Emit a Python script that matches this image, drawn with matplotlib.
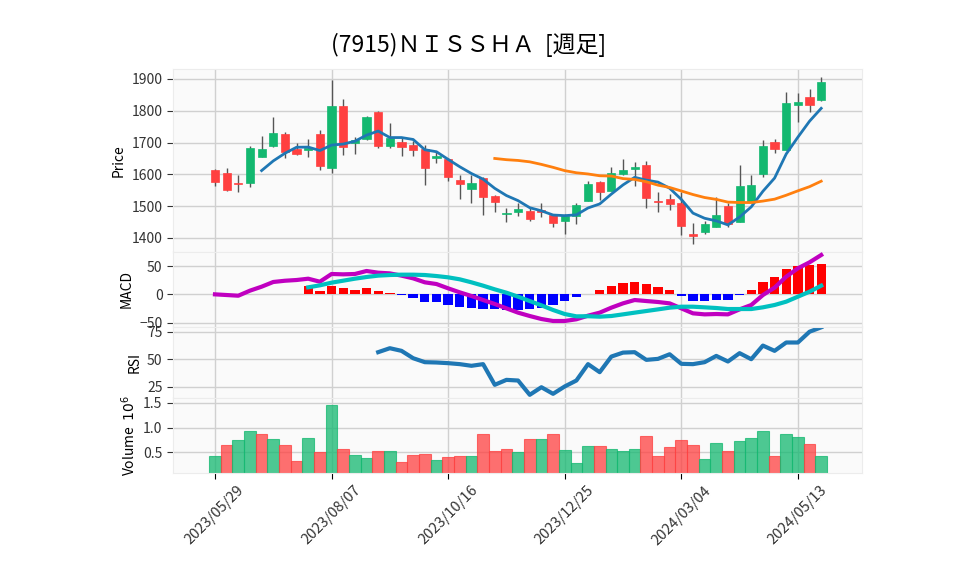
import numpy as np
import pandas as pd
import matplotlib
matplotlib.use("Agg")
import matplotlib.pyplot as plt

plt.rcParams['font.family'] = ['Noto Sans CJK JP', 'DejaVu Sans']

title = "(7915)ＮＩＳＳＨＡ  [週足]"
dates = pd.date_range("2023-05-29", periods=53, freq="W-MON")
tick_idx = [0, 10, 20, 30, 40, 50]
tick_labels = ["2023/05/29", "2023/08/07", "2023/10/16", "2023/12/25", "2024/03/04", "2024/05/13"]

opens = [1614, 1604, 1574, 1572, 1656, 1688, 1726, 1679, 1675, 1726, 1619, 1815, 1700, 1710, 1796, 1690,
         1701, 1692, 1680, 1651, 1647, 1582, 1553, 1590, 1532, 1475, 1483, 1485, 1488, 1471, 1454, 1470,
         1517, 1576, 1549, 1601, 1617, 1630, 1516, 1522, 1509, 1413, 1420, 1436, 1502, 1451, 1514, 1601,
         1703, 1677, 1819, 1842, 1834]
highs = [1616, 1619, 1598, 1690, 1719, 1781, 1734, 1698, 1710, 1740, 1895, 1837, 1718, 1782, 1798, 1761,
         1713, 1704, 1692, 1674, 1652, 1598, 1598, 1592, 1534, 1493, 1509, 1493, 1509, 1475, 1475, 1509,
         1580, 1578, 1622, 1647, 1640, 1643, 1546, 1538, 1543, 1448, 1453, 1528, 1511, 1630, 1598, 1708,
         1711, 1858, 1855, 1868, 1905]
lows = [1564, 1547, 1544, 1560, 1653, 1686, 1651, 1660, 1654, 1614, 1603, 1661, 1664, 1708, 1684, 1682,
        1658, 1658, 1567, 1635, 1579, 1522, 1511, 1472, 1481, 1449, 1469, 1453, 1467, 1434, 1413, 1444,
        1515, 1519, 1547, 1599, 1564, 1493, 1483, 1488, 1409, 1380, 1413, 1434, 1434, 1449, 1512, 1591,
        1666, 1675, 1765, 1795, 1829]
closes = [1577, 1551, 1569, 1682, 1680, 1729, 1671, 1664, 1684, 1626, 1815, 1687, 1708, 1780, 1690, 1713,
          1687, 1678, 1619, 1658, 1593, 1571, 1572, 1530, 1514, 1480, 1491, 1461, 1481, 1448, 1470, 1504,
          1569, 1544, 1603, 1614, 1623, 1525, 1513, 1507, 1439, 1407, 1444, 1472, 1444, 1562, 1567, 1689,
          1679, 1823, 1826, 1818, 1891]
volume_millions = [0.43, 0.64, 0.74, 0.94, 0.87, 0.76, 0.64, 0.33, 0.78, 0.51, 1.45, 0.57, 0.45, 0.38,
                   0.53, 0.53, 0.31, 0.45, 0.47, 0.35, 0.41, 0.43, 0.43, 0.87, 0.53, 0.57, 0.51, 0.76,
                   0.76, 0.87, 0.55, 0.29, 0.62, 0.62, 0.57, 0.53, 0.57, 0.83, 0.43, 0.60, 0.74, 0.64,
                   0.37, 0.68, 0.53, 0.72, 0.78, 0.94, 0.43, 0.88, 0.80, 0.66, 0.43]
macd_line = [0, -1.2, -2.4, 6.5, 13.5, 21.8, 24.0, 25.3, 27.6, 22.3, 35.9, 35.3, 35.9, 41.2, 38.2, 37.0,
             33.0, 28.2, 21.2, 18.2, 10.6, 3.5, -2.9, -10.0, -17.0, -24.7, -32.3, -38.2, -43.5, -47.0,
             -47.0, -44.0, -37.6, -32.3, -23.5, -15.9, -10.0, -11.8, -13.5, -15.9, -24.7, -33.5, -35.3,
             -34.7, -35.3, -26.5, -18.8, -1.2, 11.8, 31.2, 45.9, 56.5, 69.4]
signal_line = [np.nan] * 8 + [12.4, 15.9, 20.6, 24.1, 27.6, 30.6, 33.0, 34.1, 34.7, 34.7, 34.1, 32.3,
                              30.0, 26.5, 21.2, 15.3, 8.8, 2.9, -4.1, -11.8, -19.4, -27.6, -34.7, -38.8,
                              -38.6, -39.4, -38.2, -35.3, -32.3, -29.4, -26.5, -23.5, -21.8, -21.8, -22.9,
                              -24.1, -25.9, -25.9, -25.9, -22.9, -18.8, -12.9, -4.1, 4.7, 15.3]
rsi_line = [np.nan] * 14 + [56.4, 60.0, 57.6, 50.9, 47.3, 47.0, 46.4, 45.5, 44.0, 45.5, 26.7, 31.2, 30.6,
                            17.6, 24.5, 18.5, 25.2, 30.6, 45.5, 38.2, 52.4, 56.0, 56.4, 49.4, 50.3, 54.5,
                            45.8, 45.5, 47.3, 53.0, 47.9, 55.5, 50.0, 62.4, 57.6, 65.2, 65.2, 75.0, 79.0]

UP = '#13b870'
DOWN = '#ff4040'
BG = '#fafafa'
GRID = '#d0d0d0'

o = np.array(opens, float); h = np.array(highs, float)
l = np.array(lows, float); c = np.array(closes, float)
v = np.array(volume_millions, float)
x = np.arange(len(c))
cs = pd.Series(c)
ma5 = cs.rolling(5).mean()
ma25 = cs.rolling(25).mean()
macd = np.array(macd_line, float)
signal = np.array(signal_line, float)
hist = macd - signal
rsi = np.array(rsi_line, float)

fig = plt.figure(figsize=(9.58, 5.75), dpi=100)
L, W = 173/958, (862-173)/958
def fy(top, bot):
    return [L, 1 - bot/575, W, (bot-top)/575]
ax1 = fig.add_axes(fy(69, 252))
ax2 = fig.add_axes(fy(252, 327), sharex=ax1)
ax3 = fig.add_axes(fy(327, 398), sharex=ax1)
ax4 = fig.add_axes(fy(398, 473), sharex=ax1)

for ax in (ax1, ax2, ax3, ax4):
    ax.set_facecolor(BG)
    ax.grid(True, color=GRID, linewidth=1)
    ax.set_axisbelow(True)
    for s in ax.spines.values():
        s.set_color('#ececec')
    ax.tick_params(axis='y', labelsize=10, colors='#333333', length=4)
    ax.tick_params(axis='x', length=4)
    ax.set_xticks(tick_idx)
for ax in (ax1, ax2, ax3):
    ax.tick_params(axis='x', labelbottom=False, length=0)

# candles
up = c >= o
col = np.where(up, UP, DOWN)
ax1.vlines(x, l, h, color='#555555', linewidth=1, zorder=2)
body_b = np.minimum(o, c)
body_h = np.maximum(np.abs(c - o), 3)
ax1.bar(x, body_h, bottom=body_b, width=0.7, color=col, edgecolor=col, linewidth=0.5, zorder=3)
ax1.plot(x, ma5, color='#1f77b4', linewidth=2, zorder=4)
ax1.plot(x, ma25, color='#ff7f0e', linewidth=2, zorder=4)
ax1.set_ylim(1356, 1931)
ax1.set_yticks([1400, 1500, 1600, 1700, 1800, 1900])
ax1.set_ylabel("Price", fontsize=10)

# MACD
valid = ~np.isnan(hist)
hcol = np.where(hist >= 0, '#ff0000', '#0000ff')
ax2.bar(x[valid], hist[valid], width=0.8, color=hcol[valid], zorder=2)
ax2.plot(x, macd, color='#c000c0', linewidth=3, zorder=3)
ax2.plot(x, signal, color='#00c0c0', linewidth=3, zorder=3)
ax2.set_ylim(-57.6, 74.7)
ax2.set_yticks([-50, 0, 50])
ax2.set_ylabel("MACD", fontsize=10)

# RSI
ax3.plot(x, rsi, color='#1f77b4', linewidth=3)
ax3.set_ylim(14.7, 79.3)
ax3.set_yticks([25, 50, 75])
ax3.set_ylabel("RSI", fontsize=10)

# Volume
vup = np.r_[True, c[1:] >= c[:-1]]
vcol = np.where(vup, UP, DOWN)
ax4.bar(x, v, width=1.0, color=vcol, alpha=0.75, edgecolor=vcol, linewidth=0.8)
ax4.set_ylim(0.08, 1.6)
ax4.set_yticks([0.5, 1.0, 1.5])
ax4.set_yticklabels(["0.5", "1.0", "1.5"])
ax4.set_ylabel("Volume  $10^{6}$", fontsize=10)
ax4.set_xticklabels(tick_labels, rotation=45, ha='center', fontsize=10.5, color='#333333')
ax4.set_xlim(-3.6, 55.5)

fig.text(469/958, 1 - 45/575, title, ha='center', va='center', fontsize=16.5)

fig.savefig("out.png", dpi=100)
